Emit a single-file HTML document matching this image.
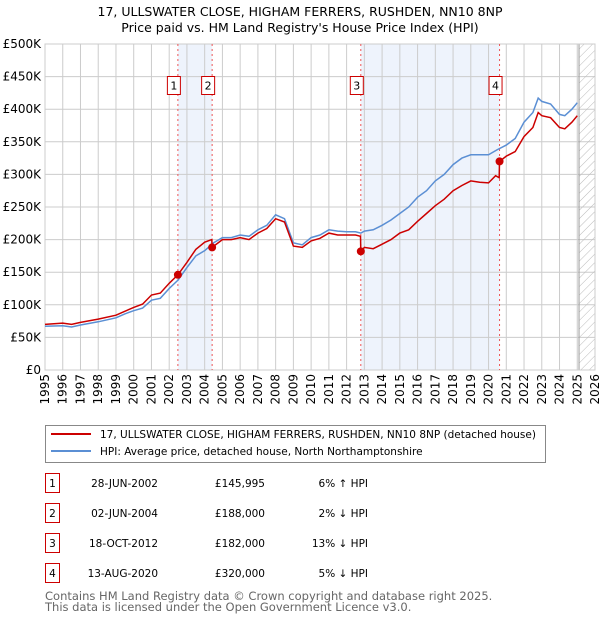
<!DOCTYPE html>
<html><head><meta charset="utf-8"><style>
body{margin:0;background:#fff;font-family:"Liberation Sans","DejaVu Sans",sans-serif;}
svg text{font-family:"DejaVu Sans","Liberation Sans",sans-serif;}
</style></head><body>
<svg id="chart" width="600" height="620" xmlns="http://www.w3.org/2000/svg">
<defs><pattern id="hatch" width="6" height="6" patternUnits="userSpaceOnUse" patternTransform="rotate(45)"><line x1="0" y1="0" x2="0" y2="6" stroke="#bbb" stroke-width="1"/></pattern></defs>
<text x="300" y="16" text-anchor="middle" font-size="12.5">17, ULLSWATER CLOSE, HIGHAM FERRERS, RUSHDEN, NN10 8NP</text>
<text x="300" y="32" text-anchor="middle" font-size="12.5">Price paid vs. HM Land Registry's House Price Index (HPI)</text>
<g id="plot"></g>
<rect x="45.5" y="425.5" width="500" height="37" fill="#fff" stroke="#888"/>
<line x1="51" y1="434" x2="91" y2="434" stroke="#cc0000" stroke-width="2"/>
<text x="100" y="438" font-size="10.5">17, ULLSWATER CLOSE, HIGHAM FERRERS, RUSHDEN, NN10 8NP (detached house)</text>
<line x1="51" y1="451" x2="91" y2="451" stroke="#5b8fd4" stroke-width="2"/>
<text x="100" y="455" font-size="10.5">HPI: Average price, detached house, North Northamptonshire</text>
<g id="table" font-size="10.5"></g>
<text x="45" y="600" font-size="11.5" fill="#666">Contains HM Land Registry data © Crown copyright and database right 2025.</text>
<text x="45" y="611" font-size="11.5" fill="#666">This data is licensed under the Open Government Licence v3.0.</text>
</svg>
<script>
const hpiYears=[1995,1996,1996.5,1997,1998,1999,1999.5,2000,2000.5,2001,2001.5,2002,2002.5,2003,2003.5,2004,2004.5,2005,2005.5,2006,2006.5,2007,2007.5,2008,2008.5,2009,2009.5,2010,2010.5,2011,2011.5,2012,2012.5,2012.8,2013,2013.5,2014,2014.5,2015,2015.5,2016,2016.5,2017,2017.5,2018,2018.5,2019,2019.5,2020,2020.5,2021,2021.5,2022,2022.5,2022.8,2023,2023.5,2024,2024.3,2024.7,2025];
const hpiValues=[67,68,66,69,74,80,86,91,95,107,110,125,138,157,175,183,195,203,203,207,205,215,222,238,232,195,192,203,207,215,213,212,212,210,213,215,222,230,240,250,265,275,290,300,315,325,330,330,330,338,345,355,380,395,417,412,408,392,390,400,410];
const redYears=[1995,1996,1996.5,1997,1998,1999,1999.5,2000,2000.5,2001,2001.5,2002,2002.49,2003,2003.5,2004,2004.4,2004.42,2005,2005.5,2006,2006.5,2007,2007.5,2008,2008.5,2009,2009.5,2010,2010.5,2011,2011.5,2012,2012.5,2012.78,2012.8,2013,2013.5,2014,2014.5,2015,2015.5,2016,2016.5,2017,2017.5,2018,2018.5,2019,2019.5,2020,2020.4,2020.6,2020.62,2021,2021.5,2022,2022.5,2022.8,2023,2023.5,2024,2024.3,2024.7,2025];
const redValues=[70,72,70,73,78,84,90,96,101,115,118,133,146,165,185,196,200,188,200,200,203,200,210,217,232,227,190,188,198,202,210,207,207,207,205,182,188,186,193,200,210,215,228,240,252,262,275,283,290,288,287,298,295,320,328,335,358,372,395,390,387,372,370,380,390];
const saleYears=[2002.49,2004.42,2012.8,2020.62];
const salePrices=[145995,188000,182000,320000];
const saleLabels=["1","2","3","4"];
const saleDates=["28-JUN-2002","02-JUN-2004","18-OCT-2012","13-AUG-2020"];
const salePriceText=["£145,995","£188,000","£182,000","£320,000"];
const saleHpiText=["6% ↑ HPI","2% ↓ HPI","13% ↓ HPI","5% ↓ HPI"];
const yTicks=[0,50,100,150,200,250,300,350,400,450,500];
const xTicks=[1995,1996,1997,1998,1999,2000,2001,2002,2003,2004,2005,2006,2007,2008,2009,2010,2011,2012,2013,2014,2015,2016,2017,2018,2019,2020,2021,2022,2023,2024,2025,2026];
const NS="http://www.w3.org/2000/svg";
const L=45,R=595,T=44,B=370;
const x=v=>L+(v-1995)/31*(R-L);
const y=v=>B-v/500*(B-T);
const g=document.getElementById('plot');
function mk(t,a,p){const e=document.createElementNS(NS,t);for(const k in a)e.setAttribute(k,a[k]);(p||g).appendChild(e);return e;}
let s=mk('rect',{x:x(saleYears[0]),y:T,width:x(saleYears[1])-x(saleYears[0]),height:B-T,fill:'#eef3fc'});


s=mk('rect',{x:x(saleYears[2]),y:T,width:x(saleYears[3])-x(saleYears[2]),height:B-T,fill:'#eef3fc'});


yTicks.forEach(v=>{mk('line',{x1:L,x2:R,y1:y(v),y2:y(v),stroke:'#ccc'});
 const t=mk('text',{x:L-4,y:y(v)+4,'text-anchor':'end','font-size':12});t.textContent='£'+(v?v+'K':'0');
 
 });
xTicks.forEach(v=>{mk('line',{x1:x(v),x2:x(v),y1:T,y2:B,stroke:'#ccc'});
 const t=mk('text',{transform:`translate(${x(v)+4},${B+4}) rotate(-90)`,'text-anchor':'end','font-size':12});t.textContent=v;
 
 });
s=mk('rect',{x:x(2025.1),y:T,width:R-x(2025.1),height:B-T,fill:'url(#hatch)',stroke:'#999'});


mk('rect',{x:L,y:T,width:R-L,height:B-T,fill:'none',stroke:'#ccc'});
saleYears.forEach((v,i)=>{const ln=mk('line',{x1:x(v),x2:x(v),y1:T,y2:B,stroke:'#e55','stroke-dasharray':'2,3'});
 
 
 const r=mk('rect',{x:x(v)-10.5,y:76.5,width:13,height:18,fill:'#fff',stroke:'#cc0000'});
 
 
 const t=mk('text',{x:x(v)-4,y:89.5,'text-anchor':'middle','font-size':11});t.textContent=saleLabels[i];});
const pts=(xs,vs)=>xs.map((a,i)=>x(a).toFixed(1)+','+y(vs[i]).toFixed(1)).join(' ');
let p=mk('polyline',{points:pts(hpiYears,hpiValues),fill:'none',stroke:'#5b8fd4','stroke-width':1.5});


p=mk('polyline',{points:pts(redYears,redValues),fill:'none',stroke:'#cc0000','stroke-width':1.5});


saleYears.forEach((v,i)=>{const c=mk('circle',{cx:x(v),cy:y(salePrices[i]/1000),r:4,fill:'#cc0000'});
 
 });
const tb=document.getElementById('table');
saleYears.forEach((v,i)=>{const yy=483+i*30;
 const r=mk('rect',{x:45.5,y:yy-9.5,width:14,height:19,fill:'#fff',stroke:'#cc0000'},tb);
 
 
 const cells=[[52.5,'middle',saleLabels[i]],[158,'end',saleDates[i]],[265,'end',salePriceText[i]],[368,'end',saleHpiText[i]]];
 cells.forEach(c=>{const t=mk('text',{x:c[0],y:yy+4,'text-anchor':c[1]},tb);t.textContent=c[2];
  
  });});
</script>
</body></html>
